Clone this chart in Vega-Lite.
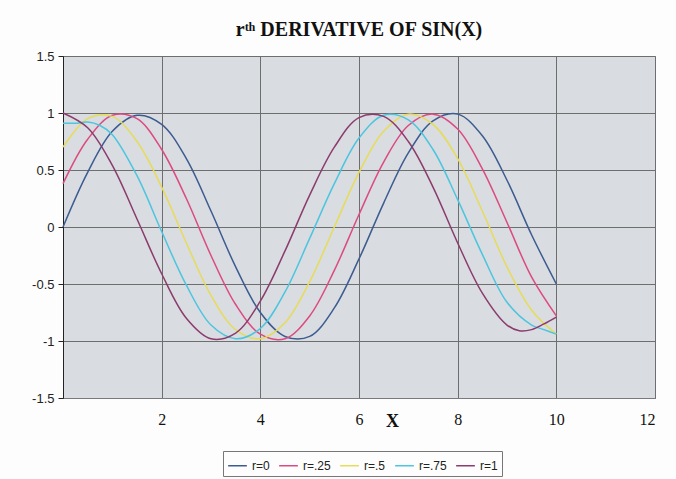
{
  "$schema": "https://vega.github.io/schema/vega-lite/v6.json",
  "autosize": {"type": "none"},
  "padding": {"left": 63, "top": 56, "right": 21, "bottom": 81},
  "width": 592,
  "height": 342,
  "background": "#fdfdfd",
  "title": {"text": "rᵗʰ DERIVATIVE OF SIN(X)", "font": "Liberation Serif", "fontSize": 20, "fontWeight": "bold", "color": "#111", "offset": 10, "anchor": "middle"},
  "config": {
    "view": {"fill": "#d9dce1", "stroke": "#8c8c8c"},
    "axis": {"labelColor": "#222", "titleColor": "#111", "gridColor": "#6e6e6e", "gridWidth": 1, "gridOpacity": 1}
  },
  "data": {"values": [
    {"series":"r=0","x":0,"y":0},{"series":"r=0","x":0.5,"y":0.48},{"series":"r=0","x":1,"y":0.84},{"series":"r=0","x":1.5,"y":0.98},{"series":"r=0","x":2,"y":0.9},{"series":"r=0","x":2.5,"y":0.6},{"series":"r=0","x":3,"y":0.14},{"series":"r=0","x":3.5,"y":-0.35},{"series":"r=0","x":4,"y":-0.75},{"series":"r=0","x":4.5,"y":-0.96},{"series":"r=0","x":5,"y":-0.96},{"series":"r=0","x":5.5,"y":-0.71},{"series":"r=0","x":6,"y":-0.28},{"series":"r=0","x":6.5,"y":0.21},{"series":"r=0","x":7,"y":0.65},{"series":"r=0","x":7.5,"y":0.93},{"series":"r=0","x":8,"y":0.99},{"series":"r=0","x":8.5,"y":0.8},{"series":"r=0","x":9,"y":0.41},{"series":"r=0","x":9.5,"y":-0.07},{"series":"r=0","x":10,"y":-0.5},
    {"series":"r=.25","x":0,"y":0.38},{"series":"r=.25","x":0.5,"y":0.77},{"series":"r=.25","x":1,"y":0.98},{"series":"r=.25","x":1.5,"y":0.95},{"series":"r=.25","x":2,"y":0.68},{"series":"r=.25","x":2.5,"y":0.25},{"series":"r=.25","x":3,"y":-0.25},{"series":"r=.25","x":3.5,"y":-0.68},{"series":"r=.25","x":4,"y":-0.94},{"series":"r=.25","x":4.5,"y":-0.98},{"series":"r=.25","x":5,"y":-0.78},{"series":"r=.25","x":5.5,"y":-0.38},{"series":"r=.25","x":6,"y":0.11},{"series":"r=.25","x":6.5,"y":0.57},{"series":"r=.25","x":7,"y":0.89},{"series":"r=.25","x":7.5,"y":0.99},{"series":"r=.25","x":8,"y":0.86},{"series":"r=.25","x":8.5,"y":0.51},{"series":"r=.25","x":9,"y":0.04},{"series":"r=.25","x":9.5,"y":-0.44},{"series":"r=.25","x":10,"y":-0.78},
    {"series":"r=.5","x":0,"y":0.7},{"series":"r=.5","x":0.5,"y":0.95},{"series":"r=.5","x":1,"y":0.97},{"series":"r=.5","x":1.5,"y":0.75},{"series":"r=.5","x":2,"y":0.35},{"series":"r=.5","x":2.5,"y":-0.14},{"series":"r=.5","x":3,"y":-0.6},{"series":"r=.5","x":3.5,"y":-0.9},{"series":"r=.5","x":4,"y":-0.98},{"series":"r=.5","x":4.5,"y":-0.84},{"series":"r=.5","x":5,"y":-0.48},{"series":"r=.5","x":5.5,"y":0},{"series":"r=.5","x":6,"y":0.48},{"series":"r=.5","x":6.5,"y":0.84},{"series":"r=.5","x":7,"y":0.99},{"series":"r=.5","x":7.5,"y":0.9},{"series":"r=.5","x":8,"y":0.6},{"series":"r=.5","x":8.5,"y":0.14},{"series":"r=.5","x":9,"y":-0.35},{"series":"r=.5","x":9.5,"y":-0.73},{"series":"r=.5","x":10,"y":-0.94},
    {"series":"r=.75","x":0,"y":0.91},{"series":"r=.75","x":0.25,"y":0.91},{"series":"r=.75","x":0.5,"y":0.92},{"series":"r=.75","x":0.75,"y":0.89},{"series":"r=.75","x":1,"y":0.81},{"series":"r=.75","x":1.5,"y":0.45},{"series":"r=.75","x":2,"y":-0.04},{"series":"r=.75","x":2.5,"y":-0.51},{"series":"r=.75","x":3,"y":-0.86},{"series":"r=.75","x":3.5,"y":-0.98},{"series":"r=.75","x":4,"y":-0.89},{"series":"r=.75","x":4.5,"y":-0.57},{"series":"r=.75","x":5,"y":-0.1},{"series":"r=.75","x":5.5,"y":0.38},{"series":"r=.75","x":6,"y":0.78},{"series":"r=.75","x":6.5,"y":0.98},{"series":"r=.75","x":7,"y":0.94},{"series":"r=.75","x":7.5,"y":0.68},{"series":"r=.75","x":8,"y":0.24},{"series":"r=.75","x":8.5,"y":-0.24},{"series":"r=.75","x":9,"y":-0.66},{"series":"r=.75","x":9.5,"y":-0.86},{"series":"r=.75","x":9.75,"y":-0.9},{"series":"r=.75","x":10,"y":-0.94},
    {"series":"r=1","x":0,"y":1},{"series":"r=1","x":0.5,"y":0.87},{"series":"r=1","x":1,"y":0.54},{"series":"r=1","x":1.5,"y":0.07},{"series":"r=1","x":2,"y":-0.41},{"series":"r=1","x":2.5,"y":-0.8},{"series":"r=1","x":3,"y":-0.98},{"series":"r=1","x":3.5,"y":-0.93},{"series":"r=1","x":4,"y":-0.65},{"series":"r=1","x":4.5,"y":-0.21},{"series":"r=1","x":5,"y":0.28},{"series":"r=1","x":5.5,"y":0.7},{"series":"r=1","x":6,"y":0.96},{"series":"r=1","x":6.5,"y":0.97},{"series":"r=1","x":7,"y":0.75},{"series":"r=1","x":7.5,"y":0.35},{"series":"r=1","x":8,"y":-0.14},{"series":"r=1","x":8.5,"y":-0.58},{"series":"r=1","x":9,"y":-0.86},{"series":"r=1","x":9.25,"y":-0.91},{"series":"r=1","x":9.5,"y":-0.9},{"series":"r=1","x":9.75,"y":-0.85},{"series":"r=1","x":10,"y":-0.79}
  ]},
  "mark": {"type": "line", "interpolate": "catmull-rom", "strokeWidth": 1.5},
  "encoding": {
    "x": {"field": "x", "type": "quantitative",
      "scale": {"domain": [0, 12], "nice": false, "zero": false},
      "axis": {"values": [0, 2, 4, 6, 8, 10, 12], "labelExpr": "datum.value == 0 ? '' : datum.label", "ticks": false, "tickSize": 0, "domainColor": "#7a7a7a",
        "labelFont": "Liberation Serif", "labelFontSize": 16, "labelPadding": 13, "labelColor": "#111",
        "title": "X", "titleFont": "Liberation Serif", "titleFontSize": 18, "titleFontWeight": "bold",
        "titleX": 329, "titleY": 23, "titleAlign": "center", "titleBaseline": "middle"}},
    "y": {"field": "y", "type": "quantitative",
      "scale": {"domain": [-1.5, 1.5], "nice": false, "zero": false},
      "axis": {"values": [-1.5, -1, -0.5, 0, 0.5, 1, 1.5], "labelExpr": "toString(datum.value)", "title": null, "tickSize": 5, "tickColor": "#222", "domainColor": "#222",
        "labelFont": "Liberation Sans", "labelFontSize": 13, "labelPadding": 4, "labelColor": "#222"}},
    "color": {"field": "series", "type": "nominal",
      "scale": {"domain": ["r=0", "r=.25", "r=.5", "r=.75", "r=1"], "range": ["#3c5b90", "#dc4a82", "#e6dc58", "#4cc5df", "#8c3b6d"]},
      "legend": {"orient": "none", "legendX": 160, "legendY": 395, "direction": "horizontal", "title": null, "strokeColor": "#777", "padding": 4,
        "symbolType": "stroke", "symbolSize": 350, "symbolStrokeWidth": 1.5, "labelFont": "Liberation Sans", "labelFontSize": 12, "labelColor": "#222", "columnPadding": 6}}
  }
}
